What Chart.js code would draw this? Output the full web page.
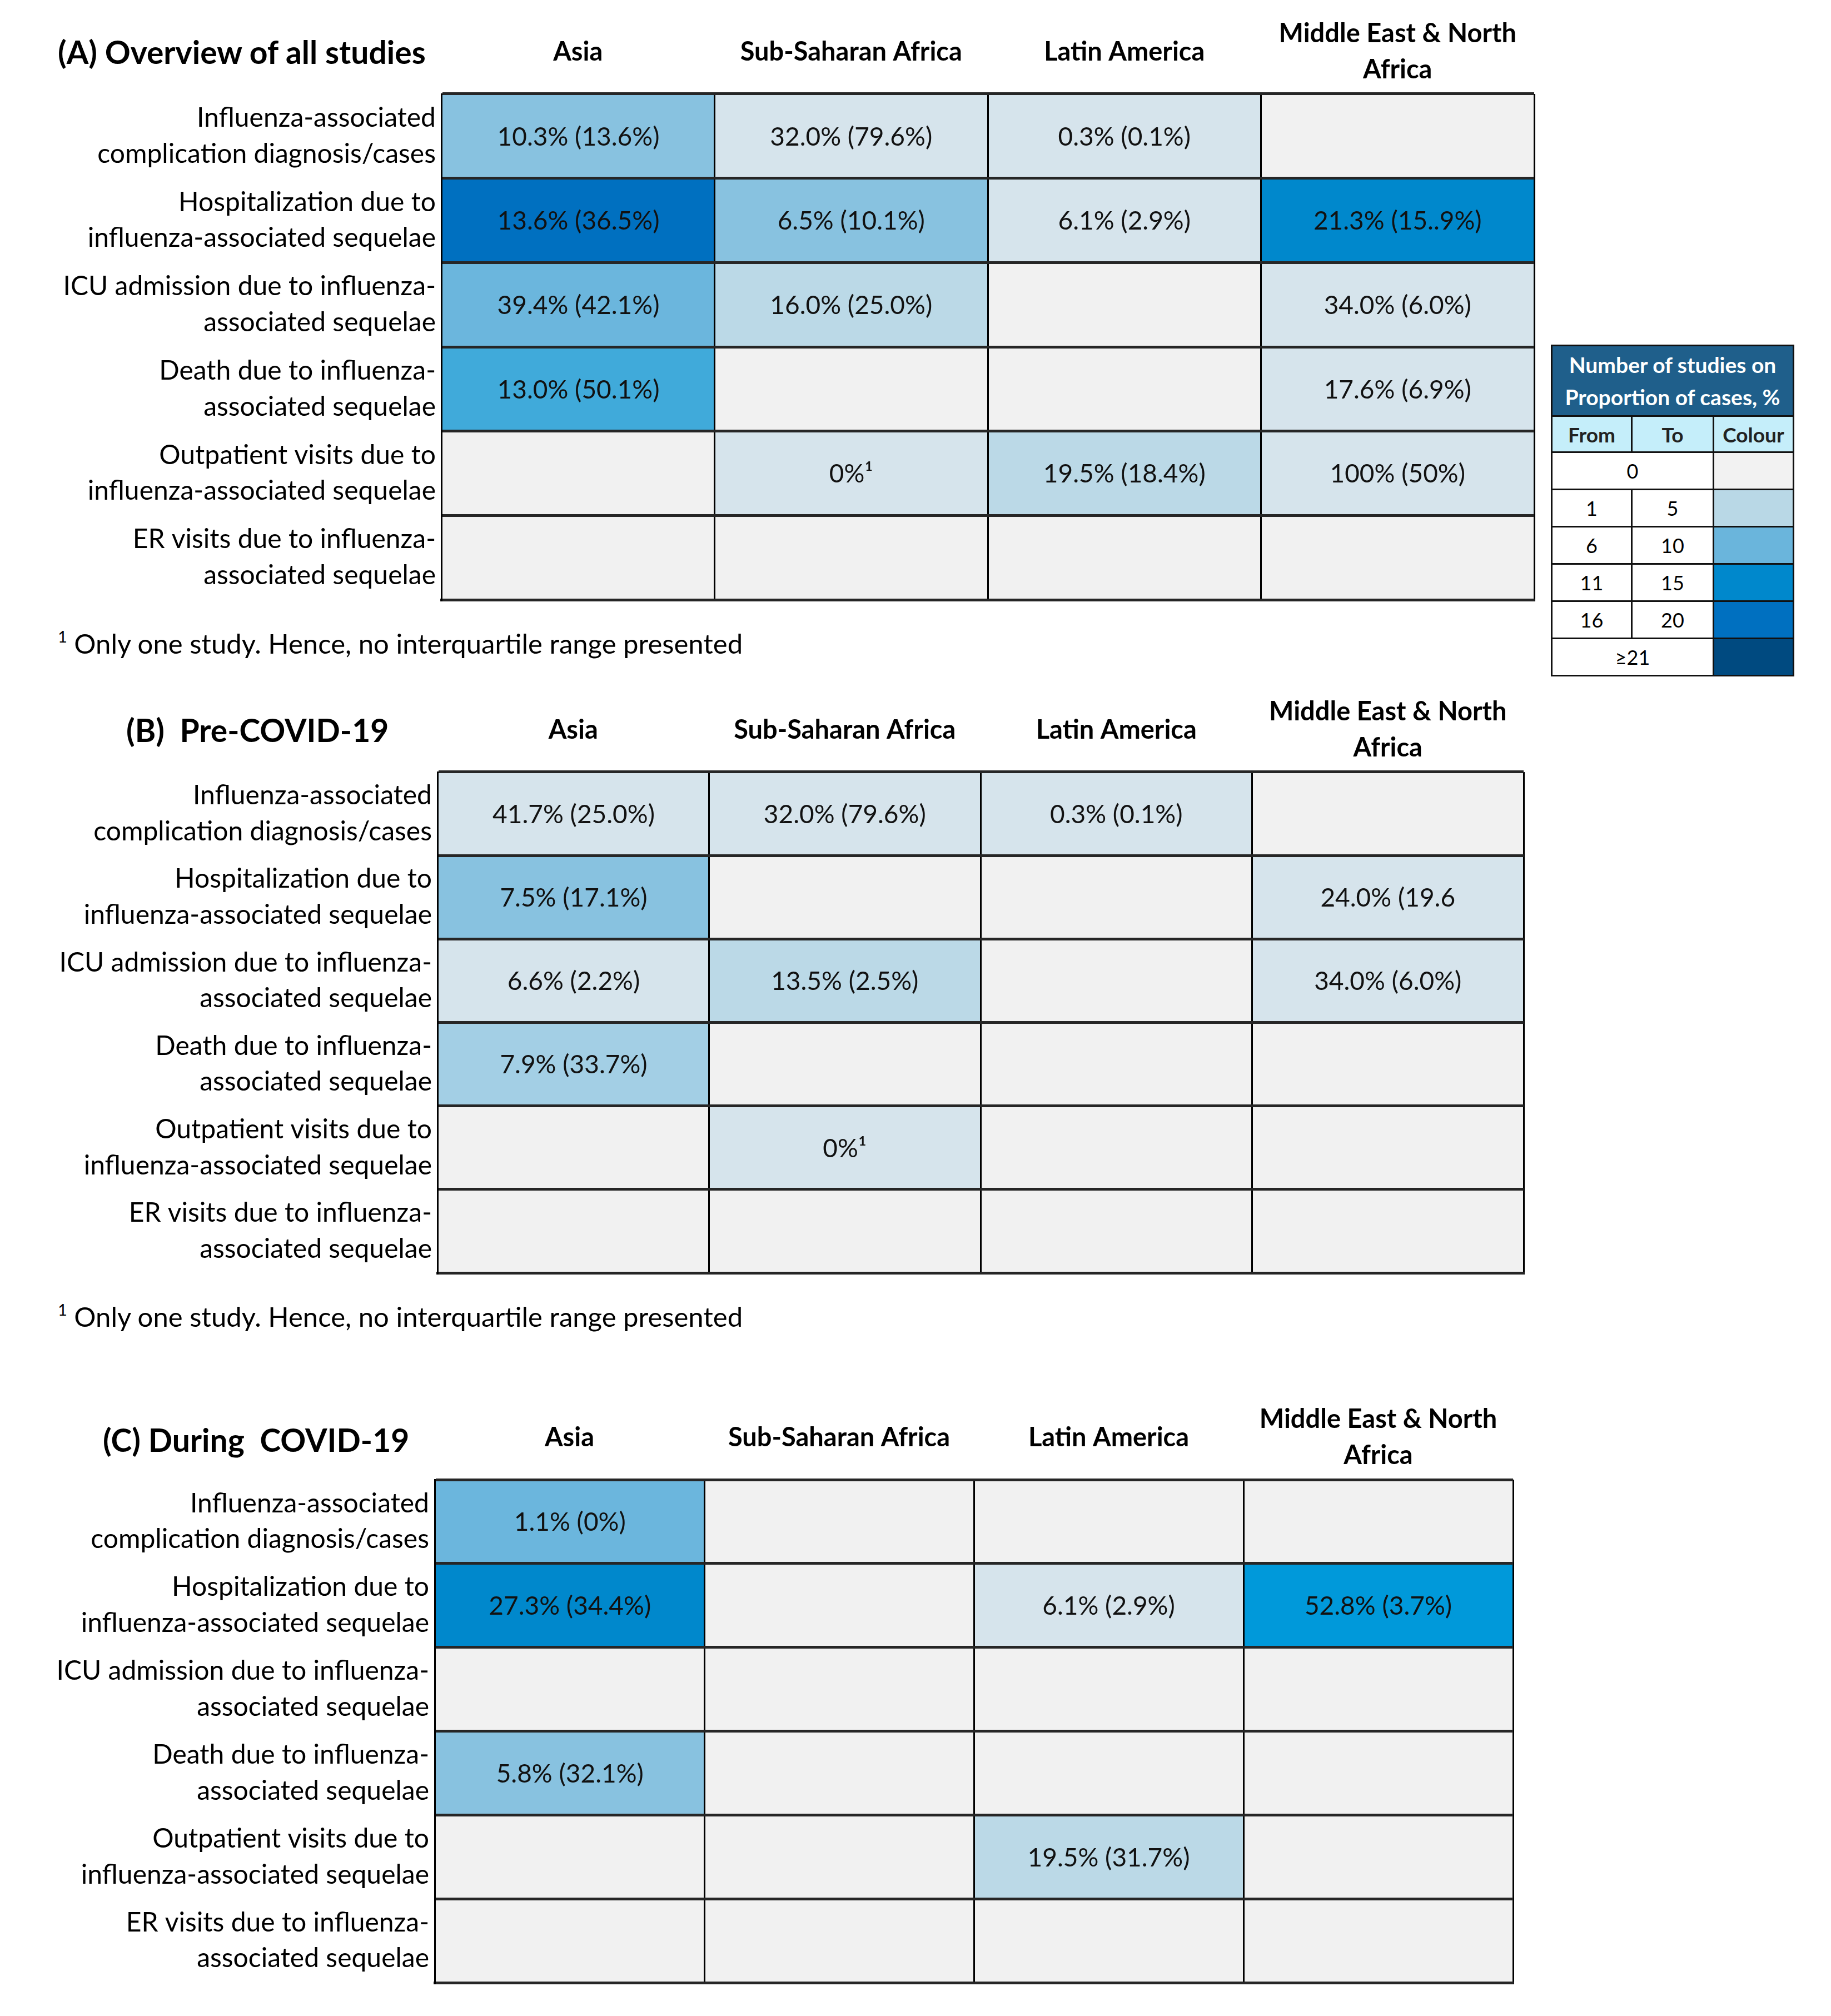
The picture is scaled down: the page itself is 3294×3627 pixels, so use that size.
<!DOCTYPE html>
<html>
<head>
<meta charset="utf-8">
<script src="https://cdn.jsdelivr.net/npm/chart.js@4.4.1/dist/chart.umd.min.js"></script>
<style>
html,body{margin:0;padding:0;background:#fff;}
body{width:3294px;height:3627px;position:relative;overflow:hidden;font-family:Lato,'Noto Sans',sans-serif;color:#000;}
canvas{position:absolute;left:0;}
.title{position:absolute;font-weight:bold;font-size:57px;line-height:66px;white-space:nowrap;}
.note{position:absolute;font-size:49px;line-height:60px;white-space:nowrap;}
.note sup{font-size:29px;vertical-align:20px;line-height:0;}
#legend{position:absolute;left:2790px;top:620px;border-collapse:collapse;font-family:Lato,sans-serif;}
#legend td{border:3px solid #111;text-align:center;padding:0;font-size:36px;}
#legend td.lh{background:#1F5F8B;color:#fff;font-weight:bold;font-size:39px;line-height:58px;height:124px;}
#legend tr.sub td{background:#C5EEFA;font-weight:bold;height:62px;color:#222;font-size:37px;}
#legend tr.body td{height:64px;background:#fff;}
</style>
</head>
<body>
<div class="title" style="left:104px;top:60px;">(A) Overview of all studies</div>
<div class="title" style="left:227px;top:1280px;">(B)&nbsp; Pre-COVID-19</div>
<div class="title" style="left:185px;top:2557px;">(C) During&nbsp; COVID-19</div>
<div class="note" style="left:104px;top:1127px;"><sup>1</sup> Only one study. Hence, no interquartile range presented</div>
<div class="note" style="left:104px;top:2338px;"><sup>1</sup> Only one study. Hence, no interquartile range presented</div>
<canvas id="panelA"></canvas>
<canvas id="panelB"></canvas>
<canvas id="panelC"></canvas>
<table id="legend"></table>
<script>
// ---------- data ----------
const regionLabels = [['Asia'], ['Sub-Saharan Africa'], ['Latin America'], ['Middle East & North', 'Africa']];
const outcomeLabels = [
  ['Influenza-associated', 'complication diagnosis/cases'],
  ['Hospitalization due to', 'influenza-associated sequelae'],
  ['ICU admission due to influenza-', 'associated sequelae'],
  ['Death due to influenza-', 'associated sequelae'],
  ['Outpatient visits due to', 'influenza-associated sequelae'],
  ['ER visits due to influenza-', 'associated sequelae']
];
// cell texts: median proportion (IQR)
const valuesA = [
  ['10.3% (13.6%)', '32.0% (79.6%)', '0.3% (0.1%)', ''],
  ['13.6% (36.5%)', '6.5% (10.1%)', '6.1% (2.9%)', '21.3% (15..9%)'],
  ['39.4% (42.1%)', '16.0% (25.0%)', '', '34.0% (6.0%)'],
  ['13.0% (50.1%)', '', '', '17.6% (6.9%)'],
  ['', '0%¹', '19.5% (18.4%)', '100% (50%)'],
  ['', '', '', '']
];
const valuesB = [
  ['41.7% (25.0%)', '32.0% (79.6%)', '0.3% (0.1%)', ''],
  ['7.5% (17.1%)', '', '', '24.0% (19.6'],
  ['6.6% (2.2%)', '13.5% (2.5%)', '', '34.0% (6.0%)'],
  ['7.9% (33.7%)', '', '', ''],
  ['', '0%¹', '', ''],
  ['', '', '', '']
];
const valuesC = [
  ['1.1% (0%)', '', '', ''],
  ['27.3% (34.4%)', '', '6.1% (2.9%)', '52.8% (3.7%)'],
  ['', '', '', ''],
  ['5.8% (32.1%)', '', '', ''],
  ['', '', '19.5% (31.7%)', ''],
  ['', '', '', '']
];
// shading level (number-of-studies intensity) per cell
const shadeA = [
  [4, 1, 1, 0],
  [9, 4, 1, 8],
  [5, 2, 0, 1],
  [6, 0, 0, 1],
  [0, 1, 2, 1],
  [0, 0, 0, 0]
];
const shadeB = [
  [1, 1, 1, 0],
  [4, 0, 0, 1],
  [1, 2, 0, 1],
  [3, 0, 0, 0],
  [0, 1, 0, 0],
  [0, 0, 0, 0]
];
const shadeC = [
  [5, 0, 0, 0],
  [8, 0, 1, 7],
  [0, 0, 0, 0],
  [4, 0, 0, 0],
  [0, 0, 2, 0],
  [0, 0, 0, 0]
];
// legend
const legendFrom = ['0', '1', '6', '11', '16', '≥21'];
const legendTo = ['', '5', '10', '15', '20', ''];
const legendColors = ['#F2F2F2', '#B9D8E6', '#6AB5DC', '#0088CC', '#0070C0', '#004A80'];

// ---------- styles ----------
const shadeColors = ['#F1F1F1', '#D6E4EC', '#BBD9E7', '#A3CFE5', '#88C2E0', '#6BB6DD', '#40AADA', '#0099DA', '#0088CC', '#0070C0'];
const FONT = 'Lato';

const cellTextPlugin = {
  id: 'cellText',
  afterDatasetsDraw(chart) {
    const ctx = chart.ctx;
    ctx.save();
    ctx.font = '46px ' + FONT;
    ctx.fillStyle = '#111';
    ctx.textAlign = 'center';
    ctx.textBaseline = 'middle';
    chart.data.datasets.forEach((ds, di) => {
      chart.getDatasetMeta(di).data.forEach((bar, i) => {
        const t = ds.cellText[i];
        if (t) ctx.fillText(t, (bar.x + bar.base) / 2, bar.y + 2);
      });
    });
    ctx.restore();
  }
};

function makePanel(id, tableTop, left, right, bottom, values, shades) {
  const headerH = 170;
  const top = tableTop - headerH;
  const padR = 24, padB = 90;
  const canvas = document.getElementById(id);
  const W = right + padR, H = bottom - top + padB;
  canvas.width = W; canvas.height = H;
  canvas.style.width = W + 'px'; canvas.style.height = H + 'px';
  canvas.style.top = top + 'px';
  const datasets = regionLabels.map((r, ci) => ({
    label: r.join(' '),
    data: outcomeLabels.map(() => [ci, ci + 1]),
    backgroundColor: shades.map(row => shadeColors[row[ci]]),
    cellText: values.map(row => row[ci]),
    borderWidth: 0,
    barPercentage: 1,
    categoryPercentage: 1,
    grouped: false,
    xAxisID: 'x',
    yAxisID: 'y'
  }));
  new Chart(canvas, {
    type: 'bar',
    data: { labels: outcomeLabels, datasets },
    options: {
      indexAxis: 'y',
      responsive: false,
      maintainAspectRatio: false,
      animation: false,
      devicePixelRatio: 1,
      layout: { padding: { top: 0, right: padR, bottom: padB, left: 0 } },
      plugins: { legend: { display: false }, tooltip: { enabled: false } },
      scales: {
        x: {
          type: 'linear', position: 'bottom', min: 0, max: 4,
          ticks: { display: false, stepSize: 1 },
          grid: { color: '#000', lineWidth: 3, drawTicks: false, z: 1 },
          border: { display: true, color: '#1a1a1a', width: 5, z: 1 },
          afterFit: s => { s.height = 0; }
        },
        xTop: {
          type: 'linear', position: 'top', min: 0, max: 4,
          afterBuildTicks: s => { s.ticks = [0.5, 1.5, 2.5, 3.5].map(v => ({ value: v })); },
          ticks: {
            callback: v => regionLabels[Math.floor(v)],
            font: { family: FONT, weight: 'bold', size: 47, lineHeight: 1.38 },
            color: '#000', padding: 43, crossAlign: 'center', maxRotation: 0, autoSkip: false
          },
          grid: { display: false, drawTicks: false },
          border: { display: false },
          afterFit: s => { s.height = headerH; }
        },
        y: {
          type: 'category', position: 'left', offset: true,
          ticks: { font: { family: FONT, size: 48, lineHeight: 1.35 }, color: '#000', padding: 10, autoSkip: false },
          grid: { offset: true, color: '#262626', lineWidth: 5, drawTicks: false, z: 1 },
          border: { display: true, color: '#000', width: 3, z: 1 },
          afterFit: s => { s.width = left; s.paddingTop = 0; s.paddingBottom = 0; }
        }
      }
    },
    plugins: [cellTextPlugin]
  });
}

function buildLegend() {
  const t = document.getElementById('legend');
  let html = '<colgroup><col style="width:144px"><col style="width:147px"><col style="width:144px"></colgroup>';
  html += '<tr><td colspan="3" class="lh">Number of studies on<br>Proportion of cases, %</td></tr>';
  html += '<tr class="sub"><td>From</td><td>To</td><td>Colour</td></tr>';
  legendFrom.forEach((f, i) => {
    const to = legendTo[i];
    html += '<tr class="body">' + (to === '' ? '<td colspan="2">' + f + '</td>' : '<td>' + f + '</td><td>' + to + '</td>') +
      '<td style="background:' + legendColors[i] + '"></td></tr>';
  });
  t.innerHTML = html;
}

buildLegend();
makePanel('panelA', 169, 794, 2760, 1079, valuesA, shadeA);
makePanel('panelB', 1389, 787, 2741, 2290, valuesB, shadeB);
makePanel('panelC', 2662, 782, 2722, 3567, valuesC, shadeC);
</script>
</body>
</html>
